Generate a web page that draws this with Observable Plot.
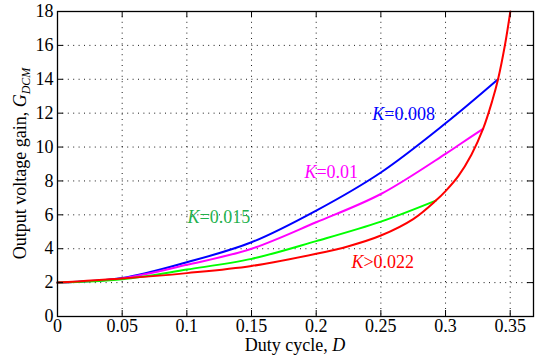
<!DOCTYPE html>
<html><head><meta charset="utf-8">
<script src="https://cdn.jsdelivr.net/npm/d3@7"></script>
<script src="https://cdn.jsdelivr.net/npm/@observablehq/plot@0.6"></script>
<style>body{margin:0;background:#fff} svg{display:block} svg, svg text{font-family:"Liberation Serif","Times New Roman",serif !important;}</style>
</head><body><div id="chart"></div>
<script>
// Duty cycle D and gain G_DCM
const dutyBlue = [0, 0.05, 0.1, 0.15, 0.2, 0.25, 0.3, 0.3406];
const gainBlue = [2, 2.27, 3.2, 4.38, 6.25, 8.5, 11.4, 14.0];
const dutyMagenta = [0, 0.05, 0.1, 0.15, 0.2, 0.25, 0.3, 0.3114, 0.329];
const gainMagenta = [2, 2.25, 3.05, 4.0, 5.56, 7.23, 9.6, 10.18, 11.07];
const dutyGreen = [0, 0.05, 0.1, 0.15, 0.2, 0.25, 0.2925];
const gainGreen = [2, 2.2, 2.77, 3.4, 4.45, 5.6, 6.84];
const dutyRed = [0, 0.05, 0.1, 0.15, 0.2, 0.225, 0.25, 0.275, 0.2925, 0.3, 0.31, 0.32, 0.329, 0.336, 0.3406, 0.346, 0.3501];
const gainRed = [2, 2.24, 2.56, 2.98, 3.7, 4.15, 4.78, 5.75, 6.84, 7.4, 8.3, 9.55, 11.07, 12.7, 14.0, 16.05, 18];
const seriesNames = ["K=0.008", "K=0.01", "K=0.015", "K>0.022"];
const seriesColors = ["#0000ff", "#ff00ff", "#00ff00", "#ff0000"];

const xTicks = [0, 0.05, 0.1, 0.15, 0.2, 0.25, 0.3, 0.35];
const xTickLabels = ["0", "0.05", "0.1", "0.15", "0.2", "0.25", "0.3", "0.35"];
const yTicks = [0, 2, 4, 6, 8, 10, 12, 14, 16, 18];
const yTickLabels = ["0", "2", "4", "6", "8", "10", "12", "14", "16", "18"];

// annotation labels (anchored at data coordinates)
const labelTexts = ["K=0.008", "K=0.01", "K=0.015", "K>0.022"];
const labelD = [0.2434, 0.1909, 0.1005, 0.2272];
const labelG = [11.91, 8.49, 5.84, 3.18];
const labelColors = ["#0000ff", "#ff00ff", "#22b14c", "#ff0000"];

const xLabel = "Duty cycle, ";
const xLabelVar = "D";
const yLabel = "Output voltage gain, ";
const yLabelVar = "G";
const yLabelSub = "DCM";

const W = 536, H = 364, mL = 57, mR = 3, mT = 11, mB = 48;
const innerW = W - mL - mR, innerH = H - mT - mB;
const FONT = "Liberation Serif, Times New Roman, serif";

const rows = [];
[[dutyBlue, gainBlue], [dutyMagenta, gainMagenta], [dutyGreen, gainGreen], [dutyRed, gainRed]]
  .forEach(([ds, gs], k) => ds.forEach((d, i) => rows.push({series: seriesNames[k], k, D: d, G: gs[i]})));

const gridStyle = {stroke: "black", strokeWidth: 1, strokeDasharray: "1,4.4", strokeOpacity: 0.9};
const tickLen = 6;

const marks = [
  Plot.ruleX(xTicks.filter(d => d > 0), {x: d => d, ...gridStyle}),
  Plot.ruleY(yTicks.filter(d => d > 0 && d < 18), {y: d => d, ...gridStyle}),
];
seriesNames.forEach((s, k) => {
  marks.push(Plot.line(rows.filter(r => r.k === k), {x: "D", y: "G", stroke: seriesColors[k], strokeWidth: 2, curve: "catmull-rom"}));
});
marks.push(
  Plot.frame({stroke: "black", strokeWidth: 1.3}),
  Plot.ruleX(xTicks, {x: d => d, stroke: "black", insetTop: innerH - tickLen}),
  Plot.ruleX(xTicks, {x: d => d, stroke: "black", insetBottom: innerH - tickLen}),
  Plot.ruleY(yTicks, {y: d => d, stroke: "black", insetRight: innerW - tickLen}),
  Plot.ruleY(yTicks, {y: d => d, stroke: "black", insetLeft: innerW - tickLen}),
  Plot.axisX(xTicks, {tickSize: 0, tickPadding: 3, label: null, tickFormat: (d, i) => xTickLabels[i], fontFamily: FONT, fontSize: 18}),
  Plot.axisY(yTicks, {tickSize: 0, tickPadding: 4, label: null, tickFormat: (d, i) => yTickLabels[i], fontFamily: FONT, fontSize: 18})
);
labelTexts.forEach((t, i) => {
  marks.push(Plot.text([i], {x: j => labelD[j], y: j => labelG[j], text: j => labelTexts[j], fill: labelColors[i], textAnchor: "start", fontSize: 18, fontFamily: FONT}));
});

const chart = Plot.plot({
  width: W, height: H,
  marginLeft: mL, marginRight: mR, marginTop: mT, marginBottom: mB,
  style: {fontFamily: FONT, fontSize: "18px", background: "white", color: "black"},
  x: {domain: [0, 0.368]},
  y: {domain: [0, 18]},
  marks
});

const svg = d3.select(chart);
svg.attr("font-family", FONT);
// italic K in annotations
svg.selectAll("text").filter(function () {
  return labelTexts.includes(this.textContent);
}).each(function () {
  const t = this.textContent;
  const el = d3.select(this);
  el.text("");
  el.append("tspan").attr("font-style", "italic").text(t[0]);
  el.append("tspan").text(t.slice(1));
});

// x axis label
const xl = svg.append("text")
  .attr("x", mL + innerW / 2).attr("y", H - 13)
  .attr("text-anchor", "middle").attr("font-size", 18).attr("font-family", FONT).attr("fill", "black");
xl.append("tspan").text(xLabel);
xl.append("tspan").attr("font-style", "italic").text(xLabelVar);

// y axis label
const yl = svg.append("text")
  .attr("transform", `translate(26,${mT + innerH / 2}) rotate(-90)`)
  .attr("text-anchor", "middle").attr("font-size", 18).attr("font-family", FONT).attr("fill", "black");
yl.append("tspan").text(yLabel);
yl.append("tspan").attr("font-style", "italic").text(yLabelVar);
yl.append("tspan").attr("font-style", "italic").attr("font-size", 12).attr("dy", 4).text(yLabelSub);

document.getElementById("chart").appendChild(chart);
</script>
</body></html>
